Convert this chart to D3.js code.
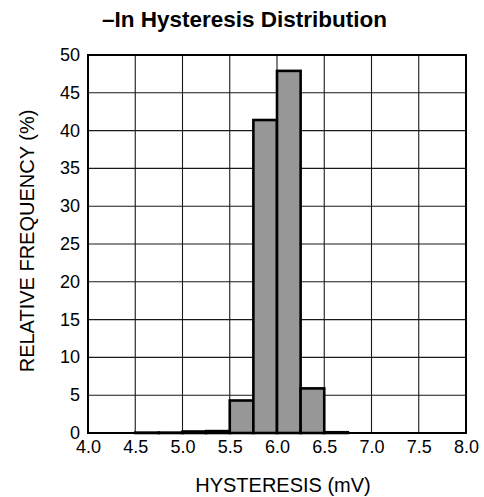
<!DOCTYPE html>
<html><head><meta charset="utf-8">
<script src="https://cdn.jsdelivr.net/npm/d3@7"></script>
<style>body{margin:0;background:#fff}svg{display:block}text{font-family:"Liberation Sans",Arial,sans-serif;fill:#000}</style>
</head><body><svg id="c" width="484" height="497"></svg>
<script>
const binStarts = [4.5, 4.75, 5.0, 5.25, 5.5, 5.75, 6.0, 6.25, 6.5];
const frequencies = [0.05, 0.05, 0.2, 0.25, 4.3, 41.4, 47.9, 5.9, 0.1];
const xTicks = [4.0, 4.5, 5.0, 5.5, 6.0, 6.5, 7.0, 7.5, 8.0];
const yTicks = [0, 5, 10, 15, 20, 25, 30, 35, 40, 45, 50];
const binWidth = 0.25;

const svg = d3.select("#c");
const L = 88, R = 466, T = 55, B = 433;
const x = d3.scaleLinear().domain([4, 8]).range([L, R]);
const y = d3.scaleLinear().domain([0, 50]).range([B, T]);

// grid
svg.append("g").selectAll("line").data(xTicks).join("line")
  .attr("x1", d => x(d)).attr("x2", d => x(d)).attr("y1", T).attr("y2", B)
  .attr("stroke", "#1a1a1a").attr("stroke-width", 1.1);
svg.append("g").selectAll("line").data(yTicks).join("line")
  .attr("y1", d => y(d)).attr("y2", d => y(d)).attr("x1", L).attr("x2", R)
  .attr("stroke", "#1a1a1a").attr("stroke-width", 1.1);

// bars
svg.append("g").selectAll("rect").data(binStarts).join("rect")
  .attr("x", d => x(d)).attr("width", d => x(d + binWidth) - x(d))
  .attr("y", (d, i) => y(frequencies[i])).attr("height", (d, i) => B - y(frequencies[i]))
  .attr("fill", "#979797").attr("stroke", "#000").attr("stroke-width", 2.6);

// frame
svg.append("rect").attr("x", L).attr("y", T).attr("width", R - L).attr("height", B - T)
  .attr("fill", "none").attr("stroke", "#000").attr("stroke-width", 2);

// axes labels
const xa = d3.axisBottom(x).tickValues(xTicks).tickFormat(d3.format(".1f")).tickSize(0).tickPadding(7);
const gx = svg.append("g").attr("transform", `translate(0,${B})`).call(xa);
gx.select(".domain").remove();
gx.selectAll("text").attr("font-size", 18).attr("font-family", "Liberation Sans, Arial, sans-serif").attr("fill", "#000");

const ya = d3.axisLeft(y).tickValues(yTicks).tickSize(0).tickPadding(8);
const gy = svg.append("g").attr("transform", `translate(${L},0)`).call(ya);
gy.select(".domain").remove();
gy.selectAll("text").attr("font-size", 18).attr("dy", "0.3em").attr("font-family", "Liberation Sans, Arial, sans-serif").attr("fill", "#000");

svg.append("text").attr("x", 102).attr("y", 27).attr("font-size", 22.5).attr("font-weight", "bold")
  .text("–In Hysteresis Distribution");
svg.append("text").attr("x", 283).attr("y", 492).attr("text-anchor", "middle").attr("font-size", 20)
  .text("HYSTERESIS (mV)");
svg.append("text").attr("transform", "translate(34,241) rotate(-90)").attr("text-anchor", "middle").attr("font-size", 20)
  .text("RELATIVE FREQUENCY (%)");
</script></body></html>
